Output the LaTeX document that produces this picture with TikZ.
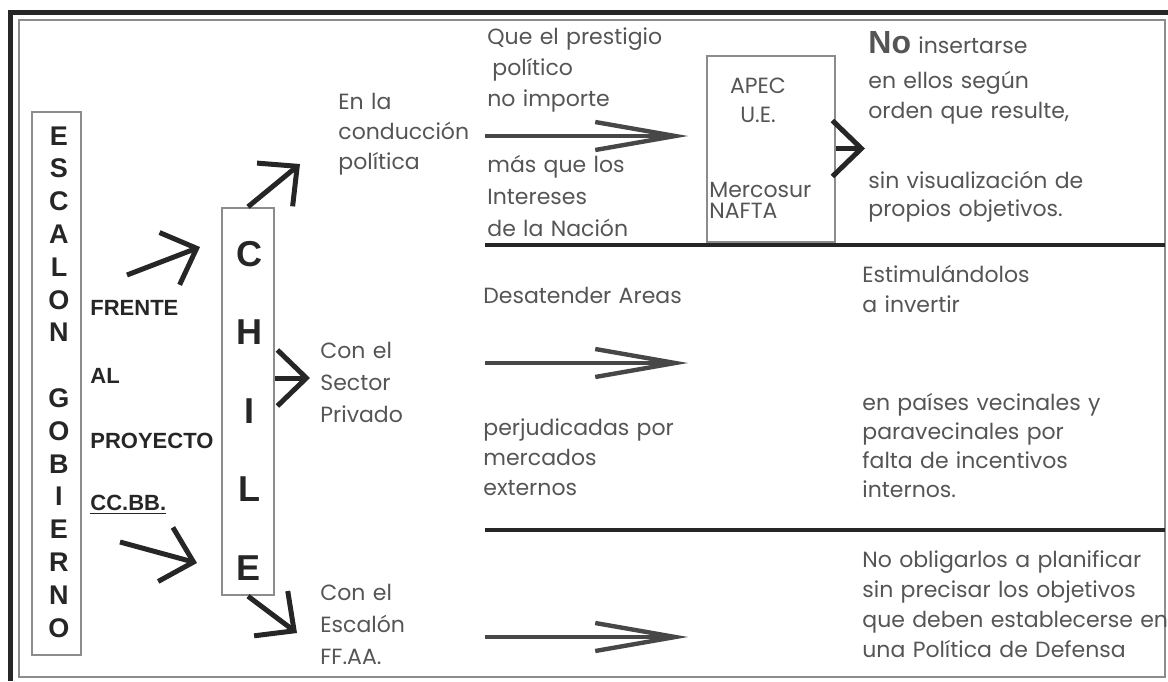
\documentclass[tikz,border=0pt]{standalone}
\usepackage{fontspec}
\setmainfont{Poppins}
\newfontfamily\grotesk{Liberation Sans}
\usetikzlibrary{positioning,arrows.meta}
\definecolor{ink}{HTML}{262626}
\definecolor{print}{HTML}{555555}
\definecolor{rule}{HTML}{8C8C8C}
\tikzset{
	>={Straight Barb[length=14.5pt, width=28pt]}
}

\begin{document}
\begin{tikzpicture}[
x = 0.5pt, y = -0.5pt,
every node/.style = {
	inner sep = 0pt
},
txt/.style = {
	font = \fontsize{11}{15}\selectfont,
	text = print,
	align = left,
	text width = 175pt,
	anchor = base west
},
lbl/.style = {
	font = \grotesk\bfseries\fontsize{11}{13}\selectfont,
	text = ink,
	anchor = base west
},
stackletters/.style = {
	font = \grotesk\bfseries\fontsize{13.5}{16.4}\selectfont,
	text = ink,
	align = center,
	text width = 20pt,
	anchor = base
},
letterbox/.style = {
	draw = rule,
	line width = 1.2pt
},
chevron/.style = {
	->,
	draw = ink,
	line width = 2.5pt
},
longarrow/.style = {
	-{Straight Barb[length=40pt, width=14pt, line width=2.2pt]},
	draw = ink!85,
	line width = 1.7pt
},
sepline/.style = {
	draw = ink,
	line width = 2.4pt
}
]
\useasboundingbox (0,0) rectangle (1168,681);

% frame
\draw[rule, line width = 1pt] (19,20) rectangle (1165,677);
\draw[ink, line width = 2.5pt] (10,681) -- (10,12) -- (1168,12);

% left boxes
\node (escalon) [letterbox, minimum width = 24.5pt, minimum height = 271.5pt] at (56.5,383.5) {};
\node (escalonword) [stackletters] at (59,145) {E\\S\\C\\A\\L\\O\\N};
\node (gobiernoword) [stackletters] at (59,407.4) {G\\O\\B\\I\\E\\R\\N\\O};

\node (chile) [letterbox, minimum width = 26pt, minimum height = 193.5pt] at (248,401.5) {};
\node (chileword) [stackletters, font = \grotesk\bfseries\fontsize{18}{39.25}\selectfont] at (249,266) {C\\H\\I\\L\\E};

\node (frente) [lbl] at (90,315) {FRENTE};
\node (al) [lbl] at (90,383) {AL};
\node (proyecto) [lbl] at (90,448) {PROYECTO};
\node (ccbb) [lbl] at (90,510) {\underline{CC.BB.}};

% arrows into and out of CHILE
\coordinate (frenteTail) at (127,275);
\coordinate (frenteTip) at (200,247);
\coordinate (ccbbTail) at (120,542);
\coordinate (ccbbTip) at (197,563);
\coordinate (conduTip) at (300,164);
\coordinate (sectorTip) at (310,378);
\coordinate (ffaaTip) at (297,633);
\draw[chevron] (frenteTail) -- (frenteTip);
\draw[chevron] (ccbbTail) -- (ccbbTip);
\draw[chevron] (chile.north) -- (conduTip);
\draw[chevron] (chile.east |- sectorTip) -- (sectorTip);
\draw[chevron] (chile.south) -- (ffaaTip);

% row 1
\node (condu) [txt, font = \fontsize{11}{15}\selectfont] at (338,109) {En la\\conducción\\política};
\node (prestigio) [txt, font = \fontsize{11}{15.5}\selectfont] at (487,44) {Que el prestigio\\\hspace*{2.5pt}político\\no importe};
\node (intereses) [txt, font = \fontsize{11}{16}\selectfont] at (487,172) {más que los\\Intereses\\de la Nación};
\node (apec) [letterbox, line width = 1pt, minimum width = 64pt, minimum height = 93pt] at (771,148.5) {};
\node (apecue) [txt, align = center, text width = 50pt, anchor = base, font = \fontsize{11}{14.5}\selectfont] at (758,93) {APEC\\U.E.};
\node (mercosur) [txt, font = \fontsize{11}{10.5}\selectfont] at (709,197) {Mercosur\\NAFTA};
\node (noins) [txt] at (868,53) {{\grotesk\bfseries\fontsize{16}{16}\selectfont No} insertarse};
\node (ellos) [txt] at (868,88) {en ellos según\\orden que resulte,};
\node (sinvis) [txt, font = \fontsize{11}{14}\selectfont] at (868,188) {sin visualización de\\propios objetivos.};
\coordinate (prestTail) at (485,136);
\coordinate (prestTip) at (688,136);
\coordinate (apecTip) at (865,148.5);
\draw[longarrow] (prestTail) -- (prestTip);
\draw[chevron] (apec.east) -- (apecTip);
\draw[sepline] (485,245) -- (1165,245);

% row 2
\node (sector) [txt, font = \fontsize{11}{16}\selectfont] at (320,358) {Con el\\Sector\\Privado};
\node (desat) [txt] at (483,303) {Desatender Areas};
\node (perjud) [txt] at (483,435) {perjudicadas por\\mercados\\externos};
\node (estim) [txt] at (862,282) {Estimulándolos\\a invertir};
\node (paises) [txt, font = \fontsize{11}{14.5}\selectfont] at (862,410) {en países vecinales y\\paravecinales por\\falta de incentivos\\internos.};
\coordinate (desatTail) at (485,363);
\coordinate (desatTip) at (688,363);
\draw[longarrow] (desatTail) -- (desatTip);
\draw[sepline] (485,530) -- (1165,530);

% row 3
\node (ffaa) [txt, font = \fontsize{11}{16}\selectfont] at (320,600) {Con el\\Escalón\\FF.AA.};
\node (obligar) [txt] at (862,567) {No obligarlos a planificar\\sin precisar los objetivos\\que deben establecerse en\\una Política de Defensa};
\coordinate (ffaaTail) at (485,637);
\coordinate (ffaaEnd) at (688,637);
\draw[longarrow] (ffaaTail) -- (ffaaEnd);

\end{tikzpicture}
\end{document}
